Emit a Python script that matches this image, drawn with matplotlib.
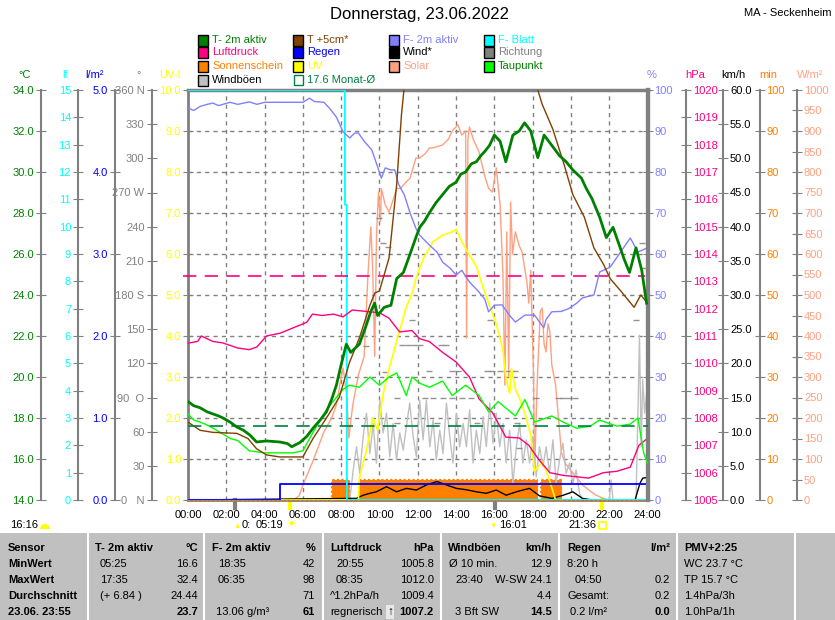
import numpy as np
import matplotlib
matplotlib.use('Agg')
import matplotlib.pyplot as plt
from matplotlib.patches import Rectangle, Wedge
from matplotlib.transforms import Affine2D

plt.rcParams['font.family'] = ['Liberation Sans', 'DejaVu Sans']

# ---------------- data ----------------
hour_ticks = list(range(0, 25, 2))
x_labels = [f"{h:02d}:00" for h in hour_ticks]

t2m_t = [0.0, 0.3, 0.63, 1.0, 1.3, 1.6, 1.83, 2.2, 2.55, 2.9, 3.23, 3.58, 4.1, 4.5, 4.8, 5.2, 5.42,
         5.84, 6.2, 6.53, 6.9, 7.23, 7.5, 7.75, 8.0, 8.27, 8.5, 8.95, 9.3, 9.55, 9.75, 9.9, 10.25,
         10.6, 10.9, 11.25, 11.6, 11.9, 12.1, 12.35, 12.6, 12.95, 13.3, 13.65, 14.0, 14.25, 14.5,
         14.8, 15.06, 15.3, 15.5, 15.75, 16.0, 16.3, 16.6, 16.97, 17.3, 17.58, 17.9, 18.27, 18.6,
         19.0, 19.4, 19.75, 20.1, 20.55, 20.8, 21.1, 21.5, 21.85, 22.2, 22.5, 22.8, 23.06, 23.4,
         23.7, 23.95]
t2m_v = [18.8, 18.6, 18.5, 18.3, 18.2, 18.1, 18.0, 17.8, 17.56, 17.4, 17.17, 16.83, 16.88, 16.85,
         16.83, 16.75, 16.6, 16.8, 17.1, 17.5, 17.9, 18.3, 18.9, 19.6, 20.6, 21.6, 21.2, 21.6, 22.5,
         23.2, 23.6, 23.0, 23.4, 23.5, 24.8, 25.1, 26.0, 26.8, 27.3, 27.6, 28.0, 28.5, 28.9, 29.3,
         29.5, 29.9, 30.0, 30.4, 30.5, 30.8, 31.0, 31.3, 31.8, 31.5, 30.5, 31.8, 32.0, 32.4, 32.0,
         30.7, 31.8, 31.3, 30.8, 30.5, 30.1, 29.7, 29.2, 28.7, 27.8, 26.8, 27.3, 26.5, 25.7, 25.1,
         26.3, 25.2, 23.6]

t5_t = [0.0, 0.63, 1.3, 2.55, 3.13, 3.58, 4.1, 4.8, 6.0, 6.53, 7.23, 7.9, 8.43, 8.95, 9.5, 9.76,
        10.0, 10.5, 10.9, 11.15, 11.3, 12.0, 13.0, 14.0, 15.0, 16.0, 17.0, 17.8, 18.27, 18.5, 19.05,
        19.6, 20.1, 20.7, 21.2, 21.7, 22.05, 22.6, 23.3, 23.65, 24.0]
t5_v = [17.8, 17.4, 17.3, 17.25, 17.0, 16.5, 16.2, 16.1, 16.1, 17.0, 18.0, 19.0, 20.7, 21.9, 23.5,
        24.1, 24.2, 25.8, 29.4, 32.8, 34.2, 37.0, 40.0, 42.0, 43.0, 42.0, 39.0, 36.0, 34.0, 33.3,
        32.1, 30.5, 28.9, 27.8, 26.3, 25.5, 24.8, 24.2, 23.4, 24.0, 23.6]

dew_t = [0.0, 0.3, 0.63, 1.0, 1.5, 2.2, 2.6, 3.2, 4.0, 5.0, 5.5, 6.0, 6.53, 7.23, 7.75, 8.1, 8.43,
         8.95, 9.5, 10.0, 10.5, 10.9, 11.4, 11.7, 12.1, 12.6, 13.3, 13.8, 14.5, 15.2, 15.7, 16.2,
         17.1, 17.6, 18.1, 19.0, 19.6, 20.3, 21.0, 21.5, 22.4, 23.1, 23.5, 23.8, 24.0]
dew_v = [18.2, 17.9, 17.8, 17.66, 17.4, 17.0, 16.9, 16.4, 16.3, 16.3, 16.3, 16.4, 17.3, 18.4, 19.0,
         19.4, 19.6, 19.5, 20.0, 19.6, 20.0, 20.2, 19.1, 20.0, 19.7, 19.5, 19.8, 19.1, 19.6, 19.1,
         18.3, 18.8, 18.1, 18.9, 17.8, 18.1, 17.8, 17.5, 17.6, 17.9, 17.6, 17.7, 18.0, 16.3, 15.8]

month_mean = 17.6
pressure_ref = 1013.2

hum_t = [0.0, 0.3, 0.63, 1.0, 1.3, 1.6, 2.2, 2.6, 3.2, 3.6, 4.0, 5.0, 6.0, 6.35, 6.6, 7.1, 7.4, 7.75,
         8.1, 8.45, 8.7, 8.9, 9.2, 9.6, 9.85, 10.1, 10.3, 10.6, 10.8, 11.0, 11.3, 11.6, 11.9, 12.1,
         12.6, 13.0, 13.3, 13.7, 14.0, 14.3, 14.7, 15.2, 15.5, 15.7, 16.0, 16.4, 16.8, 17.1, 17.6,
         18.1, 18.58, 18.7, 19.0, 19.5, 19.9, 20.3, 20.6, 21.2, 21.5, 22.05, 22.6, 23.1, 23.5, 24.0]
hum_v = [95.6, 95.0, 96.0, 96.5, 96.8, 96.2, 97.0, 96.5, 97.1, 96.5, 97.0, 97.0, 97.0, 98.0, 97.2,
         97.0, 95.5, 93.4, 89.8, 88.3, 89.5, 89.5, 87.5, 85.4, 82.0, 78.5, 81.0, 80.5, 80.5, 77.0,
         74.4, 70.0, 66.3, 64.6, 62.2, 60.5, 58.0, 56.5, 54.9, 56.0, 53.2, 50.7, 49.0, 45.9, 47.5,
         47.6, 45.0, 43.4, 45.1, 45.1, 42.0, 44.0, 45.9, 46.0, 46.7, 48.0, 49.3, 50.0, 55.6, 56.8,
         60.5, 63.9, 60.5, 61.5]

press_t = [0.0, 0.5, 0.7, 1.0, 1.3, 1.8, 2.6, 3.2, 3.6, 4.1, 4.8, 5.5, 6.2, 6.5, 7.0, 7.6, 8.1, 8.58,
           9.3, 10.0, 10.5, 11.05, 11.7, 12.1, 12.6, 13.3, 14.0, 14.7, 15.2, 15.9, 16.6, 17.3, 17.8,
           18.3, 18.9, 19.6, 20.3, 20.92, 21.7, 22.4, 23.1, 23.55, 23.9]
press_v = [1010.74, 1010.8, 1011.0, 1010.9, 1010.8, 1010.75, 1010.56, 1010.5, 1010.6, 1011.0,
           1011.1, 1011.3, 1011.5, 1011.8, 1011.75, 1011.8, 1011.7, 1011.95, 1011.9, 1011.85,
           1011.65, 1011.15, 1011.2, 1010.9, 1010.8, 1010.4, 1010.05, 1009.5, 1008.7, 1008.2,
           1007.3, 1007.27, 1007.0, 1006.5, 1006.0, 1005.9, 1005.85, 1005.8, 1006.0, 1006.05,
           1006.2, 1007.0, 1007.2]

uv_t = [0.0, 8.9, 8.95, 9.3, 9.65, 9.9, 10.2, 10.5, 10.97, 11.4, 11.75, 11.9, 12.3, 12.8, 13.3,
        13.8, 14.0, 14.3, 14.6, 15.06, 15.4, 15.7, 16.1, 16.45, 16.6, 16.8, 16.9, 17.1, 17.3, 17.6,
        17.9, 18.1, 18.5, 18.8, 19.2, 24.0]
uv_v = [0.0, 0.0, 0.53, 1.17, 2.0, 1.7, 2.6, 3.2, 4.0, 4.7, 5.1, 5.4, 5.9, 6.3, 6.46, 6.54, 6.6,
        6.3, 6.05, 5.7, 5.2, 4.8, 4.3, 3.66, 3.0, 2.6, 3.2, 2.7, 2.5, 2.1, 1.6, 0.7, 0.93, 0.6, 0.0,
        0.0]

solar_t = [0.0, 5.5, 5.8, 6.0, 6.5, 7.1, 7.5, 7.75, 8.0, 8.1, 8.3, 8.4, 8.6, 8.9, 9.2, 9.4, 9.55,
           9.65, 9.75, 9.85, 9.95, 10.05, 10.1, 10.3, 10.5, 10.7, 10.9, 11.1, 11.4, 11.6, 11.9,
           12.1, 12.4, 12.6, 12.9, 13.3, 13.6, 13.8, 14.1, 14.3, 14.5, 14.55, 14.62, 14.7, 14.9,
           15.2, 15.5, 15.7, 15.9, 16.1, 16.3, 16.45, 16.55, 16.65, 16.75, 16.85, 16.95, 17.1,
           17.3, 17.45, 17.7, 17.8, 17.9, 18.05, 18.1, 18.25, 18.4, 18.5, 18.6, 18.7, 18.8, 18.9,
           19.0, 19.2, 19.35, 19.5, 19.7, 19.9, 20.3, 20.6, 21.0, 21.3, 21.7, 22.0, 24.0]
solar_v = [0, 0, 10, 36, 92, 166, 200, 232, 300, 322, 250, 151, 230, 305, 350, 550, 666, 560, 350,
           650, 751, 680, 760, 720, 702, 730, 760, 760, 776, 785, 834, 834, 845, 858, 860, 866,
           880, 900, 915, 890, 900, 395, 880, 910, 880, 849, 790, 760, 751, 810, 720, 550, 280,
           654, 300, 727, 600, 654, 620, 605, 532, 480, 560, 300, 70, 300, 460, 468, 380, 361,
           430, 410, 330, 280, 200, 117, 90, 78, 55, 37, 22, 12, 4, 0, 0]

gust_t = [0.0, 8.45, 8.63, 8.80, 8.97, 9.15, 9.32, 9.50, 9.67, 9.84, 10.02, 10.19, 10.37, 10.54,
          10.71, 10.89, 11.06, 11.24, 11.41, 11.58, 11.76, 11.93, 12.10, 12.28, 12.45, 12.63,
          12.80, 12.97, 13.15, 13.32, 13.50, 13.67, 13.84, 14.02, 14.19, 14.37, 14.54, 14.71,
          14.89, 15.06, 15.24, 15.41, 15.58, 15.76, 15.93, 16.10, 16.28, 16.45, 16.62, 16.80,
          16.97, 17.15, 17.32, 17.49, 17.67, 17.84, 18.01, 18.19, 18.36, 18.54, 18.71, 18.88,
          19.06, 19.23, 19.41, 19.58, 19.75, 19.93, 20.10, 20.27, 20.45, 20.62, 22.0, 22.1, 22.2,
          23.4, 23.5, 23.58, 23.67, 23.75, 23.85, 24.0]
gust_v = [0, 0, 4.4, 7.8, 3.9, 9.3, 12.7, 6.8, 11.2, 5.4, 14.6, 9.8, 12.7, 6.3, 11.2, 5.9, 9.8, 7.3,
          10.8, 14.2, 9.3, 6.3, 14.6, 8.8, 14.6, 7.8, 11.7, 5.9, 10.2, 6.8, 14.2, 9.3, 5.4, 12.7,
          7.8, 11.2, 7.8, 13.2, 5.4, 10.2, 6.8, 12.2, 7.8, 14.2, 8.3, 12.7, 7.8, 11.2, 5.4, 10.2,
          2.4, 7.8, 11.2, 5.4, 8.8, 5.4, 9.3, 3.4, 7.8, 4.9, 7.8, 3.9, 8.8, 2.4, 5.9, 8.3, 3.9, 5.4,
          2.4, 4.4, 1.0, 0, 0, 2.9, 0, 0, 12.7, 24.1, 7.8, 17.6, 12.7, 16.8]

wind_t = [0.0, 8.8, 9.15, 9.5, 9.84, 10.37, 10.89, 11.41, 11.93, 12.45, 13.0, 13.5, 14.02, 14.54,
          15.06, 15.58, 16.10, 16.62, 17.15, 17.49, 17.84, 18.36, 19.0, 19.6, 20.1, 20.6, 21.1,
          23.35, 23.6, 23.75, 24.0]
wind_v = [0, 0.24, 0.7, 0.98, 1.2, 1.95, 1.2, 1.7, 1.46, 2.2, 2.7, 2.2, 1.7, 1.5, 1.2, 0.98, 1.46,
          0.7, 1.2, 1.46, 1.7, 0.6, 0.24, 0.7, 1.2, 0.24, 0.0, 0.0, 2.4, 3.2, 3.3]

dir_t = [9.3, 10.0, 10.2, 10.45, 10.3, 10.9, 10.9, 11.2, 11.5, 11.8, 12.1, 11.7, 12.6, 13.0, 13.2,
         13.5, 13.8, 14.1, 12.4, 12.8, 13.3, 13.8, 14.3, 14.8, 15.1, 15.75, 15.6, 15.9, 16.3, 16.7,
         17.1, 17.2, 17.3, 18.2, 19.3, 19.6, 19.9, 20.2, 23.4, 23.7, 23.8]
dir_v = [135, 248, 226, 222, 112, 90, 68, 136, 136, 136, 136, 158, 113, 68, 136, 136, 113, 113, 90,
         90, 90, 90, 90, 90, 68, 158, 113, 113, 113, 113, 113, 68, 46, 90, 90, 90, 90, 90, 158, 226,
         204]

sun_start = [7.45, 8.88, 18.36]
sun_end = [8.35, 18.19, 19.49]
sun_minutes = 5.0

rain_t = [0.0, 4.83, 24.0]
rain_v = [0.0, 0.2, 0.2]

leaf_t = [0.0, 8.19, 8.2, 8.29, 8.3, 24.0]
leaf_v = [15.0, 15.0, 10.8, 10.8, 0.0, 0.0]

sunrise, sunset = 5.317, 21.6
moonrise, moonset = 2.45, 16.017

table_rows = ["Sensor", "MinWert", "MaxWert", "Durchschnitt", "23.06. 23:55"]
table_cols = [
    ("T- 2m aktiv", "°C", ["05:25", "17:35", "(+ 6.84 )", ""], ["16.6", "32.4", "24.44", "23.7"]),
    ("F- 2m aktiv", "%", ["18:35", "06:35", "", "13.06 g/m³"], ["42", "98", "71", "61"]),
    ("Luftdruck", "hPa", ["20:55", "08:35", "^1.2hPa/h", "regnerisch"], ["1005.8", "1012.0", "1009.4", "1007.2"]),
    ("Windböen", "km/h", ["Ø 10 min.", "23:40", "", "3 Bft SW"], ["12.9", "W-SW 24.1", "4.4", "14.5"]),
    ("Regen", "l/m²", ["8:20 h", "04:50", "Gesamt:", "0.2 l/m²"], ["", "0.2", "0.2", "0.0"]),
]
pmv_lines = ["PMV+2:25", "WC 23.7 °C", "TP 15.7 °C", "1.4hPa/3h", "1.0hPa/1h"]

# ---------------- colours ----------------
C_T = '#008000'; C_LF = '#00ffff'; C_RAIN = '#0000ff'; C_DIR = '#808080'; C_UV = '#ffff00'
C_HUM = '#8080ff'; C_P = '#ff0080'; C_WIND = '#000000'; C_SUN = '#ff8000'; C_SOL = '#ffa080'
C_T5 = '#804000'; C_DEW = '#00ff00'; C_GUST = '#c0c0c0'; C_MEAN = '#008040'; GRAY = '#808080'

W, H = 835, 620
fig = plt.figure(figsize=(W / 100, H / 100), dpi=100)
fig.patch.set_facecolor('white')
PX = Affine2D().scale(1.0 / W, -1.0 / H).translate(0, 1) + fig.transFigure


def fx(x):
    return x / W


def fy(y):
    return 1 - y / H


L, R, T, B = 188, 647.5, 90, 500
host = fig.add_axes([fx(L), fy(B), (R - L) / W, (B - T) / H])
host.set_xlim(0, 24)
host.set_ylim(0, 10)
host.set_xticks(hour_ticks)
host.set_xticklabels(x_labels, fontsize=8)
host.tick_params(axis='x', length=0, pad=7)
host.set_yticks(range(0, 11))
host.set_yticklabels([f"{v:.1f}" for v in range(0, 11)], color=C_UV, fontsize=8)
host.tick_params(axis='y', direction='inout', length=7, color=GRAY, pad=1.5)
host.grid(True, color=GRAY, ls=(0, (3, 3)), lw=1)
host.set_axisbelow(True)
for side, lw in (('left', 2), ('top', 2.5), ('bottom', 2), ('right', 3)):
    host.spines[side].set_color(GRAY)
    host.spines[side].set_linewidth(lw)


def scale_axis(side, px, lo, hi, ticks, labels, color, lw=1.5):
    a = host.twinx()
    a.set_ylim(lo, hi)
    for s in a.spines.values():
        s.set_visible(False)
    if side is None:
        a.set_yticks([])
        return a
    sp = a.spines[side]
    sp.set_visible(True)
    sp.set_position(('axes', (px - L) / (R - L)))
    sp.set_color(GRAY)
    sp.set_linewidth(lw)
    a.yaxis.set_ticks_position(side)
    a.set_yticks(ticks)
    a.set_yticklabels(labels, color=color, fontsize=8)
    a.tick_params(axis='y', direction='inout', length=7, color=GRAY, pad=1.5)
    return a


# draw order follows creation order
ax_sol = scale_axis('right', 797, 0, 1000, range(0, 1001, 50), [str(v) for v in range(0, 1001, 50)], C_SOL)
ax_min = scale_axis('right', 759.5, 0, 100, range(0, 101, 10), [str(v) for v in range(0, 101, 10)], C_SUN)
ax_kmh = scale_axis('right', 723, 0, 60, np.arange(0, 61, 5), [f"{v:.1f}" for v in range(0, 61, 5)], '#000000')
dir_labels = ["0   N", "30", "60", "90  O", "120", "150", "180 S", "210", "240", "270 W", "300", "330", "360 N"]
ax_dir = scale_axis('left', 151.5, 0, 360, range(0, 361, 30), dir_labels, GRAY)
ax_uv = scale_axis(None, 0, 0, 10, [], [], C_UV)
ax_rain = scale_axis('left', 114.5, 0, 5, range(0, 6), [f"{v:.1f}" for v in range(0, 6)], C_RAIN)
ax_lf = scale_axis('left', 78, 0, 15, range(0, 16), [str(v) for v in range(0, 16)], C_LF)
ax_p = scale_axis('right', 686, 1005, 1020, range(1005, 1021), [str(v) for v in range(1005, 1021)], C_P)
ax_hum = scale_axis('right', R, 0, 100, range(0, 101, 10), [str(v) for v in range(0, 101, 10)], C_HUM, lw=3)
ax_t = scale_axis('left', 41, 14, 34, range(14, 35, 2), [f"{v:.1f}" for v in range(14, 35, 2)], C_T)

# solar
ax_sol.plot(solar_t, solar_v, color=C_SOL, lw=1)
# sunshine (5-minute bins)
tg = np.arange(0, 24 + 1e-9, 5 / 60)
sun = np.zeros_like(tg)
for s0, s1 in zip(sun_start, sun_end):
    sun[(tg >= s0) & (tg < s1)] = sun_minutes
ax_min.fill_between(tg, 0, sun, step='post', color=C_SUN, lw=0)
ax_min.step(tg, sun, where='post', color=C_SUN, lw=1.6, ls=(0, (1, 1)), clip_on=False)
# gusts and wind
ax_kmh.plot(gust_t, gust_v, color=C_GUST, lw=1)
ax_kmh.plot(wind_t, wind_v, color=C_WIND, lw=1)
# direction
ax_dir.plot(dir_t, dir_v, ls='none', marker='_', ms=4.5, mew=1.0, color=GRAY, alpha=0.85)
# UV
ax_uv.plot(uv_t, uv_v, color=C_UV, lw=1.2)
# rain
ax_rain.step(rain_t, rain_v, where='post', color=C_RAIN, lw=1.3)
# leaf wetness
ax_lf.plot(leaf_t, leaf_v, color=C_LF, lw=1.3)
# pressure
ax_p.plot(press_t, press_v, color=C_P, lw=1)
ax_p.axhline(pressure_ref, color=C_P, lw=1.2, ls=(0, (8, 5)), xmin=-0.01, xmax=0.995, clip_on=False)
# humidity
ax_hum.plot(hum_t, hum_v, color=C_HUM, lw=1)
# temperatures
ax_t.plot(dew_t, dew_v, color=C_DEW, lw=1)
ax_t.plot(t5_t, t5_v, color=C_T5, lw=1)
ax_t.axhline(month_mean, color=C_MEAN, lw=1.2, ls=(0, (8, 5)))
ax_t.plot(t2m_t, t2m_v, color=C_T, lw=2.0)

# sun / moon markers below the time axis
xt = host.get_xaxis_transform()
for tt, c in ((moonrise, GRAY), (sunrise, C_UV), (moonset, GRAY), (sunset, C_UV)):
    host.plot([tt, tt], [-0.02, 0], color=c, lw=3, transform=xt, clip_on=False)

# axis unit labels
for x, s, c in ((25, '°C', C_T), (65, 'lf', C_LF), (95, 'l/m²', C_RAIN), (139, '°', GRAY),
                (170, 'UV-I', C_UV), (652, '%', C_HUM), (695, 'hPa', C_P), (733, 'km/h', '#000000'),
                (768, 'min', C_SUN), (810, 'W/m²', C_SOL)):
    fig.text(fx(x), fy(75), s, color=c, fontsize=8, ha='center', va='center')

# title
fig.text(fx(420), fy(15), 'Donnerstag, 23.06.2022', fontsize=12, ha='center', va='center')
fig.text(fx(831), fy(13), 'MA - Seckenheim', fontsize=8, ha='right', va='center')

# legend
legend = [
    (198, 40, C_T, 'T- 2m aktiv', C_T), (198, 52, C_P, 'Luftdruck', C_P),
    (198, 66, C_SUN, 'Sonnenschein', C_SUN), (198, 80, C_GUST, 'Windböen', '#000000'),
    (293, 40, C_T5, 'T +5cm*', C_T5), (293, 52, C_RAIN, 'Regen', C_RAIN),
    (293, 66, C_UV, 'UV', C_UV), (293, 80, None, '17.6 Monat-Ø', C_MEAN),
    (389, 40, C_HUM, 'F- 2m aktiv', C_HUM), (389, 52, '#000000', 'Wind*', '#000000'),
    (389, 66, C_SOL, 'Solar', C_SOL),
    (484, 40, C_LF, 'F- Blatt', C_LF), (484, 52, GRAY, 'Richtung', GRAY),
    (484, 66, C_DEW, 'Taupunkt', C_T),
]
for x, y, fc, label, tc in legend:
    if fc is None:
        fig.patches.append(Rectangle((x + 1, y - 5), 9, 10, facecolor='none', edgecolor=C_MEAN,
                                     lw=1, transform=PX))
    else:
        fig.patches.append(Rectangle((x, y - 5.5), 10, 11, facecolor=fc, edgecolor='#000000',
                                     lw=1, transform=PX))
    fig.text(fx(x + 14), fy(y), label, color=tc, fontsize=8, ha='left', va='center')

# bottom line: day length, moon and sun times
fig.text(fx(10), fy(525), '16:16', fontsize=8, ha='left', va='center')
fig.patches.append(Wedge((45, 529), 5, 180, 360, facecolor=C_UV, edgecolor='none', transform=PX))
fig.text(fx(237), fy(527), '▲', color=C_UV, fontsize=5.5, ha='center', va='center')
fig.text(fx(242), fy(525), '0:', fontsize=8, ha='left', va='center')
fig.text(fx(256), fy(525), '05:19', fontsize=8, ha='left', va='center')
fig.text(fx(292), fy(525), '☀', color=C_UV, fontsize=9, ha='center', va='center')
fig.text(fx(493), fy(526), '▼', color=C_UV, fontsize=5.5, ha='center', va='center')
fig.text(fx(499), fy(525), '16:01', fontsize=8, ha='left', va='center')
fig.text(fx(568), fy(525), '21:36', fontsize=8, ha='left', va='center')
fig.patches.append(Rectangle((599, 522), 7, 7, facecolor='none', edgecolor=C_UV, lw=1.2, transform=PX))

# table
fig.patches.append(Rectangle((0, 533), W, 87, facecolor='#c0c0c0', edgecolor='none', transform=PX))
for x in (88, 204, 323, 441, 559, 677, 795):
    fig.lines.append(plt.Line2D([x, x], [533, 620], color='white', lw=1.5, transform=PX))
row_y = [548, 564, 580, 596, 612]
for y, s in zip(row_y, table_rows):
    fig.text(fx(8), fy(y), s, fontsize=8, fontweight='bold', ha='left', va='center')
col_x = [(95, 198), (212, 315), (330, 434), (448, 552), (567, 670)]
left_x = [(100, 100, 100, 100), (218, 218, 218, 216), (336, 336, 330, 330),
          (449, 455, 455, 455), (567, 575, 567, 570)]
for (xl, xr), lx, (head, unit, lefts, rights) in zip(col_x, left_x, table_cols):
    fig.text(fx(xl), fy(row_y[0]), head, fontsize=8, fontweight='bold', ha='left', va='center')
    fig.text(fx(xr), fy(row_y[0]), unit, fontsize=8, fontweight='bold', ha='right', va='center')
    for i in range(4):
        y = row_y[i + 1]
        if lefts[i]:
            fig.text(fx(lx[i]), fy(y), lefts[i], fontsize=8, ha='left', va='center')
        if rights[i]:
            fig.text(fx(xr), fy(y), rights[i], fontsize=8, ha='right', va='center',
                     fontweight='bold' if i == 3 else 'normal')
fig.text(fx(390), fy(612), '↑', fontsize=8.5, fontweight='bold', ha='center', va='center',
         bbox=dict(boxstyle='square,pad=0.05', facecolor='#e8e8e8', edgecolor='none'))
for i, (y, s) in enumerate(zip(row_y, pmv_lines)):
    fig.text(fx(684), fy(y), s, fontsize=8, fontweight='bold' if i == 0 else 'normal',
             ha='left', va='center')

fig.savefig('out.png', dpi=100, facecolor='white')
